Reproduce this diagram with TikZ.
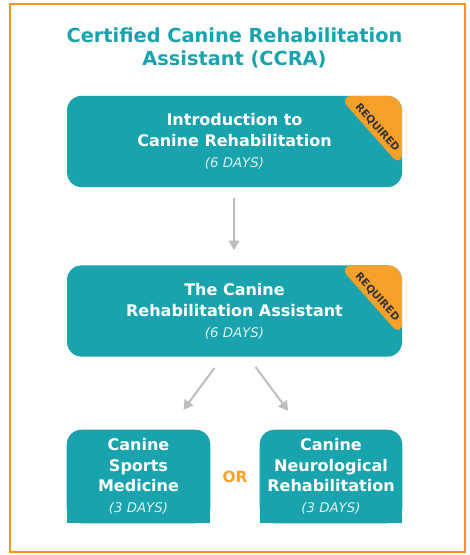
\documentclass[tikz,border=0pt]{standalone}
\usepackage{fontspec}
\setmainfont{DejaVu Sans}
\usetikzlibrary{arrows.meta,backgrounds}

\definecolor{ccrateal}{HTML}{19A3AD}
\definecolor{headteal}{HTML}{1AA2AE}
\definecolor{reqorange}{HTML}{F7A02A}
\definecolor{frameorange}{HTML}{F7941E}
\definecolor{arrowgray}{HTML}{BDBDBD}
\definecolor{daystext}{HTML}{DDF3F3}

\newcommand\daysfont{\itshape\mdseries\fontsize{10}{15}\selectfont\color{daystext}}

\tikzset{
  stagebox/.style={fill=ccrateal, rounded corners=11pt, text=white,
    font=\bfseries\fontsize{12}{15.6}\selectfont, align=center,
    minimum width=251.25pt, minimum height=68.5pt, inner sep=0pt},
  required/.style={path picture={
      \fill[reqorange] (path picture bounding box.north east) -- ++(-64,0)
        -- ++(64,72) -- cycle;}},
  reqtag/.style={rotate=-48, text=black!80,
    font=\bfseries\fontsize{7.8}{8}\selectfont, inner sep=0pt},
  electbox/.style={text=white, font=\bfseries\fontsize{12}{15.4}\selectfont,
    align=center, minimum height=69.75pt, inner sep=0pt},
  flowarrow/.style={draw=arrowgray, line width=1.5pt,
    -{Triangle[width=8pt,length=7pt]}}
}

\begin{document}
\begin{tikzpicture}[x=0.75pt,y=-0.75pt]
  \useasboundingbox (0,0) rectangle (469,555);
  \draw[frameorange, line width=2pt] (10,4) rectangle (465,552);

  % heading
  \node[text=headteal, font=\bfseries\fontsize{14.5}{17.3}\selectfont, align=center] (head) at (234.5,48)
    {Certified Canine Rehabilitation\\Assistant (CCRA)};

  % required courses
  \node[stagebox, required] (intro) at (234.5,141.5)
    {Introduction to\\Canine Rehabilitation\\{\daysfont (6 DAYS)}};
  \node[reqtag] at ([shift={(-25,32)}]intro.north east) {REQUIRED};

  \node[stagebox, required] (assist) at (234.5,311)
    {The Canine\\Rehabilitation Assistant\\{\daysfont (6 DAYS)}};
  \node[reqtag] at ([shift={(-25,32)}]assist.north east) {REQUIRED};

  % elective courses
  \node[electbox, minimum width=107.25pt] (sports) at (138.5,476.5)
    {Canine\\Sports\\Medicine\\{\daysfont (3 DAYS)}};
  \node[electbox, minimum width=106.5pt] (neuro) at (331,476.5)
    {Canine\\Neurological\\Rehabilitation\\{\daysfont (3 DAYS)}};
  \node[text=reqorange, font=\bfseries\fontsize{11.5}{12}\selectfont] (or) at (235,477) {OR};

  \begin{scope}[on background layer]
    \fill[white] (0,0) rectangle (469,555);
    \foreach \b in {sports,neuro} {
      \fill[ccrateal, rounded corners=11pt] (\b.north west) rectangle (\b.south east);
      \fill[ccrateal] (\b.west) rectangle (\b.south east);
    }
  \end{scope}

  \draw[flowarrow] ([shift={(-0.5,11)}]intro.south) -- ([shift={(-0.5,-15)}]assist.north);
  \draw[flowarrow] ([shift={(-20,11)}]assist.south) -- ([shift={(45,-20)}]sports.north);
  \draw[flowarrow] ([shift={(21,10)}]assist.south) -- ([shift={(-43,-19)}]neuro.north);
\end{tikzpicture}
\end{document}
